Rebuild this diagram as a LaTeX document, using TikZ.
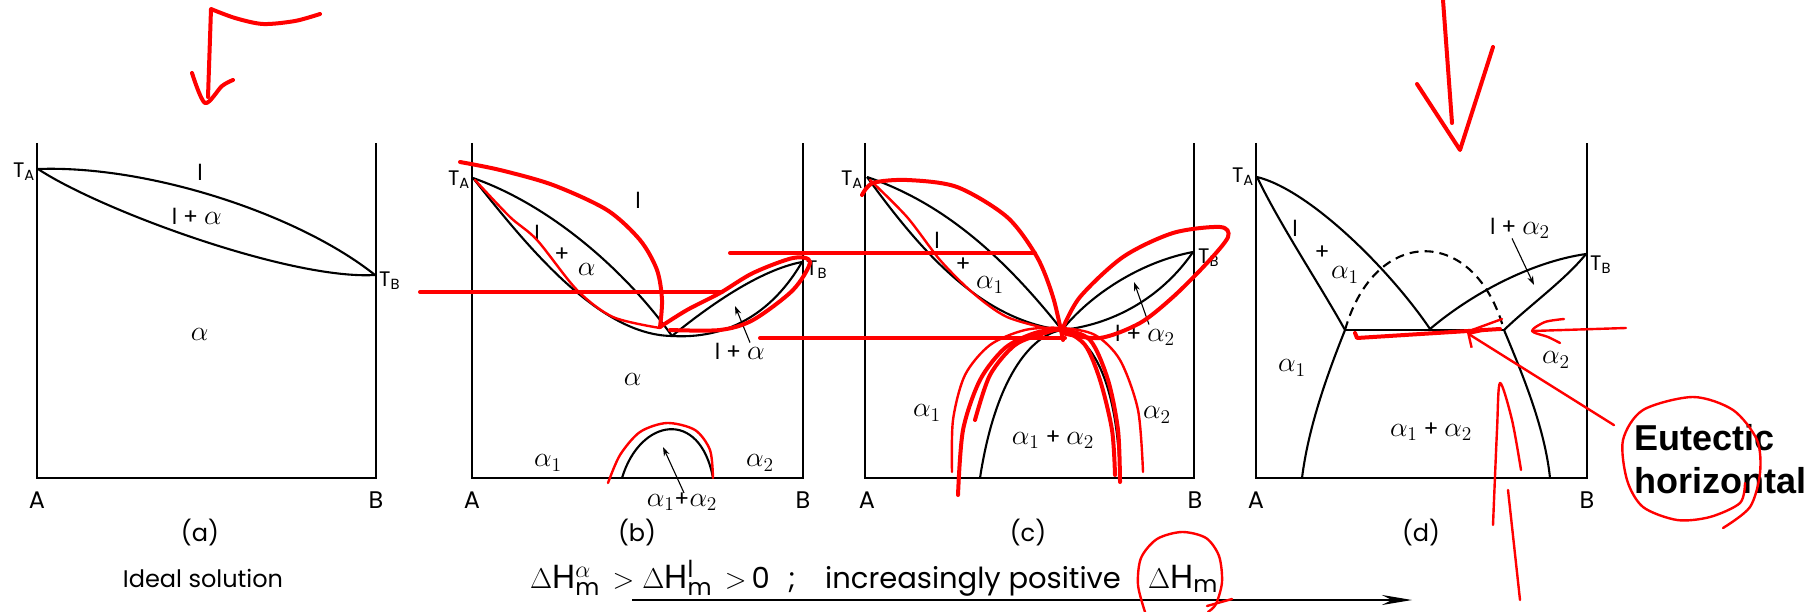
\documentclass[tikz,border=0pt]{standalone}
\usepackage{fontspec}
\setsansfont{Poppins}
\newfontfamily\notefont{Liberation Sans}
\usetikzlibrary{arrows.meta,positioning,calc}

\newcommand{\phal}[1][]{\scalebox{1.35}{$\alpha_{#1}$}}

\begin{document}
\begin{tikzpicture}[x=1pt,y=-1pt,
    frame/.style={line width=2.4pt},
    curve/.style={line width=2.1pt},
    dashcurve/.style={line width=2.1pt, dash pattern=on 9pt off 6pt},
    pen/.style={red, line width=4pt, line cap=round, line join=round},
    thinpen/.style={red, line width=2.4pt, line cap=round, line join=round},
    lbl/.style={font=\sffamily\fontsize{24}{26}\selectfont, inner sep=0pt},
    tlbl/.style={font=\sffamily\fontsize{21}{22}\selectfont, inner sep=0pt},
    ph/.style={font=\sffamily\fontsize{22}{24}\selectfont, inner sep=0pt},
    captext/.style={font=\sffamily\fontsize{29}{31}\selectfont, inner sep=0pt},
    note/.style={font=\notefont\bfseries\fontsize{36}{40}\selectfont, inner sep=0pt},
    ptr/.style={-{Stealth[length=9pt,width=6pt]}, line width=1.1pt}]

    \fill[white] (0,0) rectangle (1814,612);
    \useasboundingbox (0,0) rectangle (1814,612);

    % (a) ideal solution
    \draw[frame] (37,143) -- (37,478) -- (376,478) -- (376,143);
    \coordinate (TAa) at (38,169);
    \coordinate (TBa) at (375,275);
    \draw[curve] (TAa) .. controls (150,165) and (300,215) .. (TBa);
    \draw[curve] (TAa) .. controls (100,210) and (290,280) .. (TBa);
    \node[tlbl, anchor=east] (tA1) at (35,172) {T\textsubscript{A}};
    \node[tlbl, anchor=west] (tB1) at (379,281) {T\textsubscript{B}};
    \node[ph] (liq1) at (200,172) {l};
    \node[ph] (two1) at (197,218) {l + \phal};
    \node[ph] (sol1) at (200,337) {\phal};
    \node[lbl] (A1) at (37,500) {A};
    \node[lbl] (B1) at (376,500) {B};
    \node[lbl] (cap1) at (200,533) {(a)};
    \node[lbl] (ideal) at (203,578) {Ideal solution};

    % (b) minimum
    \draw[frame] (472,143) -- (472,478) -- (803,478) -- (803,143);
    \coordinate (TAb) at (473,178);
    \coordinate (TBb) at (802,262);
    \coordinate (Mb) at (672,336);
    \draw[curve] (TAb) .. controls (550,205) and (625,270) .. (Mb);
    \draw[curve] (TAb) .. controls (530,250) and (600,335) .. (Mb);
    \draw[curve] (Mb) .. controls (710,305) and (760,270) .. (TBb);
    \draw[curve] (Mb) .. controls (740,340) and (780,300) .. (TBb);
    \draw[curve] (622,478) .. controls (640,418) and (700,408) .. (713,478);
    \node[tlbl, anchor=east] (tA2) at (470,180) {T\textsubscript{A}};
    \node[tlbl, anchor=west] (tB2) at (806,270) {T\textsubscript{B}};
    \node[ph] (liq2) at (638,200) {l};
    \node[ph] (l2) at (537,233) {l};
    \node[ph] (p2) at (562,255) {+};
    \node[ph] (a2) at (587,272) {\phal};
    \node[ph] (two2) at (740,353) {l + \phal};
    \coordinate (two2tip) at (735,306);
    \draw[ptr] ([xshift=10pt]two2.north) -- (two2tip);
    \node[ph] (sol2) at (633,382) {\phal};
    \node[ph] (s21) at (548,463) {\phal[1]};
    \node[ph] (s22) at (760,463) {\phal[2]};
    \node[ph] (gap2) at (682,502) {\phal[1]+\phal[2]};
    \coordinate (gap2tip) at (663,447);
    \draw[ptr] ([xshift=2pt]gap2.north) -- (gap2tip);
    \node[lbl] (A2) at (472,500) {A};
    \node[lbl] (B2) at (803,500) {B};
    \node[lbl] (cap2) at (637,533) {(b)};

    % (c) gap touching the minimum
    \draw[frame] (865,143) -- (865,478) -- (1194,478) -- (1194,143);
    \coordinate (TAc) at (867,177);
    \coordinate (TBc) at (1193,252);
    \coordinate (Pc) at (1062,330);
    \draw[curve] (TAc) .. controls (950,205) and (1010,265) .. (Pc);
    \draw[curve] (TAc) .. controls (920,250) and (980,320) .. (Pc);
    \draw[curve] (Pc) .. controls (1090,295) and (1140,262) .. (TBc);
    \draw[curve] (Pc) .. controls (1110,325) and (1160,300) .. (TBc);
    \draw[curve] (980,478) .. controls (995,380) and (1030,335) .. (Pc);
    \draw[curve] (Pc) .. controls (1100,340) and (1118,400) .. (1120,478);
    \node[tlbl, anchor=east] (tA3) at (863,180) {T\textsubscript{A}};
    \node[tlbl, anchor=west] (tB3) at (1198,258) {T\textsubscript{B}};
    \node[ph] (l3) at (937,240) {l};
    \node[ph] (p3) at (963,265) {+};
    \node[ph] (a3) at (990,285) {\phal[1]};
    \node[ph] (two3) at (1145,335) {l + \phal[2]};
    \coordinate (two3tip) at (1134,282);
    \draw[ptr] ([xshift=4pt]two3.north) -- (two3tip);
    \node[ph] (s31) at (927,413) {\phal[1]};
    \node[ph] (s32) at (1157,415) {\phal[2]};
    \node[ph] (gap3) at (1053,440) {\phal[1] + \phal[2]};
    \node[lbl] (A3) at (867,500) {A};
    \node[lbl] (B3) at (1195,500) {B};
    \node[lbl] (cap3) at (1028,533) {(c)};

    % (d) eutectic
    \draw[frame] (1256,143) -- (1256,478) -- (1587,478) -- (1587,143);
    \coordinate (TAd) at (1257,177);
    \coordinate (TBd) at (1586,254);
    \coordinate (P1) at (1345,330);
    \coordinate (P2) at (1504,330);
    \coordinate (Ed) at (1430,329);
    \draw[curve] (TAd) .. controls (1310,190) and (1390,270) .. (Ed);
    \draw[curve] (TAd) .. controls (1280,225) and (1320,285) .. (P1);
    \draw[curve] (P1) -- (P2);
    \draw[curve] (Ed) .. controls (1470,295) and (1530,262) .. (TBd);
    \draw[curve] (P2) .. controls (1530,305) and (1565,280) .. (TBd);
    \draw[curve] (P1) .. controls (1325,380) and (1308,430) .. (1302,478);
    \draw[curve] (P2) .. controls (1525,380) and (1545,430) .. (1550,478);
    \draw[dashcurve] (P1) .. controls (1375,225) and (1475,225) .. (P2);
    \node[tlbl, anchor=east] (tA4) at (1254,177) {T\textsubscript{A}};
    \node[tlbl, anchor=west] (tB4) at (1590,265) {T\textsubscript{B}};
    \node[ph] (l4) at (1295,228) {l};
    \node[ph] (p4) at (1322,253) {+};
    \node[ph] (a4) at (1345,275) {\phal[1]};
    \node[ph] (two4) at (1520,228) {l + \phal[2]};
    \coordinate (two4tip) at (1534,285);
    \draw[ptr] ([xshift=-8pt]two4.south) -- (two4tip);
    \node[ph] (s42) at (1556,360) {\phal[2]};
    \node[ph] (s41) at (1292,368) {\phal[1]};
    \node[ph] (gap4) at (1431,432) {\phal[1] + \phal[2]};
    \node[lbl] (A4) at (1256,500) {A};
    \node[lbl] (B4) at (1587,500) {B};
    \node[lbl] (cap4) at (1421,533) {(d)};

    % caption line
    \node[captext, anchor=base west] (dHa) at (530,588)
        {\scalebox{1.15}{$\Delta\mathsf{H}^{\alpha}_{\mathsf{m}}\,>\Delta\mathsf{H}^{\mathsf{l}}_{\mathsf{m}}\,>$}\,0};
    \node[captext, anchor=base west] (semi) at (788,588) {;};
    \node[captext, anchor=base west] (incr) at (825,588) {increasingly positive};
    \node[captext, anchor=base west] (dHm) at (1148,588) {\scalebox{1.15}{$\Delta\mathsf{H}_{\mathsf{m}}$}};
    \coordinate (arrS) at (632,600);
    \coordinate (arrE) at (1412,600);
    \draw[-{Stealth[length=30pt,width=10pt]}, line width=1.2pt] (arrS) -- (arrE);

    % red pen marks
    \draw[pen] plot[smooth] coordinates {(320,14) (295,21) (263,24) (235,18) (211,9)} -- (208,97);
    \draw[pen] plot[smooth] coordinates {(192,73) (205,103) (222,86) (233,80)};
    \draw[pen] (1443,0) -- (1452,123);
    \draw[pen] (1417,84) -- (1460,150) -- (1493,47);

    \draw[pen] plot[smooth] coordinates {(460,162) (500,170) (553,185) (607,210) (640,240) (657,270) (662,300) (660,327)};
    \draw[pen] plot[smooth] coordinates {(660,327) (687,310) (720,293) (753,273) (793,258) (810,262) (793,290) (753,320) (720,330) (670,330)};
    \draw[thinpen] plot[smooth] coordinates {(475,180) (510,217) (537,240) (577,290) (613,317) (660,328)};
    \draw[pen] (420,292) -- (722,292);
    \draw[pen] (730,253) -- (1035,253);
    \draw[pen] (760,338) -- (1065,338);
    \draw[thinpen] plot[smooth] coordinates {(608,483) (620,455) (640,432) (667,423) (695,430) (710,450) (713,478)};

    \draw[pen] plot[smooth] coordinates {(862,195) (873,183) (907,180) (957,187) (1007,217) (1037,257) (1053,297) (1063,340)};
    \draw[thinpen] plot[smooth] coordinates {(870,180) (907,217) (940,260) (973,293) (1007,317) (1053,330)};
    \draw[pen] plot[smooth] coordinates {(1062,330) (1080,297) (1123,257) (1173,233) (1220,227) (1228,237) (1207,263) (1173,297) (1140,323) (1100,338) (1062,333)};
    \draw[thinpen] plot[smooth] coordinates {(952,472) (953,420) (965,375) (990,345) (1025,330) (1062,328) (1095,335) (1120,360) (1138,410) (1143,472)};
    \draw[pen] plot[smooth] coordinates {(958,495) (963,430) (980,380) (1005,348) (1035,333) (1062,330) (1090,340) (1108,380) (1118,430) (1120,482)};
    \draw[pen] plot[smooth] coordinates {(975,420) (990,375) (1015,345) (1045,333) (1062,330) (1085,345) (1100,380) (1112,430) (1115,475)};

    \draw[pen] (1355,333) -- (1357,338) -- (1500,329);
    \draw[thinpen] (1472,330) -- (1502,319);
    \node[note, anchor=base west] (eut) at (1634,450) {Eutectic};
    \node[note, anchor=base west] (hor) at (1634,493) {horizontal};
    \draw[thinpen, -{Straight Barb[length=10pt]}] (eut.west) ++(-20,-12) -- (1467,333);
    \draw[thinpen] (1626,328) -- (1532,331);
    \draw[thinpen] plot[smooth] coordinates {(1564,319) (1545,322) (1532,331) (1548,337) (1560,343)};
    \draw[thinpen] plot[smooth] coordinates {(1521,470) (1512,420) (1500,383) (1497,430) (1493,525)};
    \draw[thinpen] (1508,490) -- (1520,600);
    \draw[thinpen] plot[smooth] coordinates {(1745,483) (1740,503) (1710,517) (1677,520) (1643,507) (1627,480) (1623,440) (1643,410) (1693,397) (1733,410) (1757,440) (1760,473) (1750,507) (1723,528)};

    \draw[thinpen] plot[smooth] coordinates {(1145,612) (1138,585) (1141,558) (1157,539) (1182,532) (1206,538) (1219,556) (1222,582) (1216,604) (1208,612)};
    \draw[thinpen] (1207,606) -- (1232,599);
\end{tikzpicture}
\end{document}
